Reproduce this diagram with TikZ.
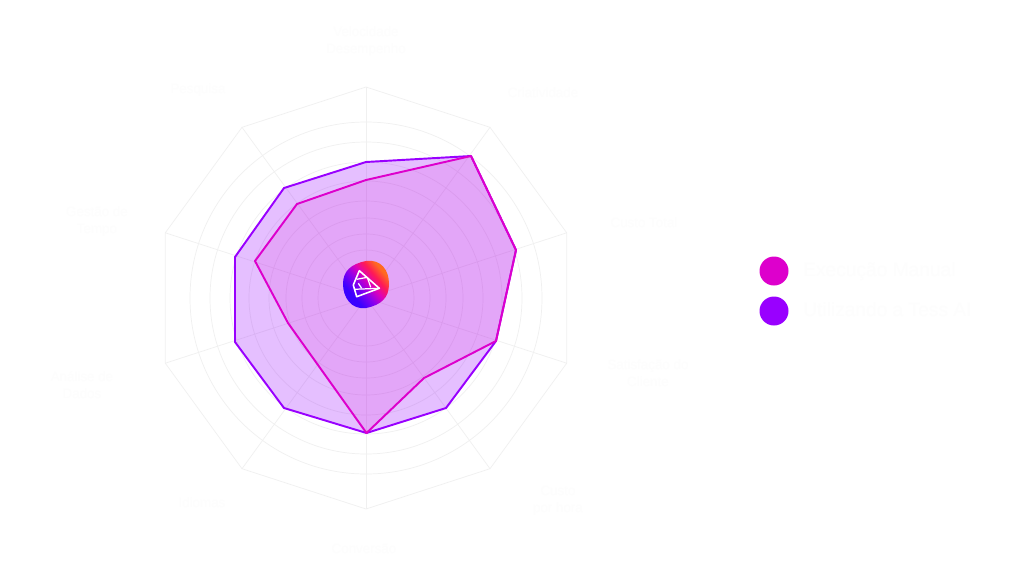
\documentclass[tikz,border=0pt]{standalone}
\usepackage{fontspec}
\usepackage{color}
\setmainfont{Liberation Sans}
\definecolor{gridgray}{HTML}{F0F0F0}
\definecolor{faintwhite}{HTML}{FDFDFD}
\definecolor{tesspurple}{HTML}{9900FF}
\definecolor{tessmagenta}{HTML}{DD00CC}
\definecolor{logoblue}{HTML}{3A00FF}
\definecolor{logoviolet}{HTML}{8A00EE}
\definecolor{logopink}{HTML}{DD00BB}
\definecolor{logored}{HTML}{FF1A55}
\definecolor{logoorange}{HTML}{FF6A20}
\pgfdeclarehorizontalshading{tesslogo}{100bp}{color(0bp)=(logoblue); color(32bp)=(logoblue); color(44bp)=(logoviolet); color(54bp)=(logopink); color(63bp)=(logored); color(72bp)=(logoorange); color(100bp)=(logoorange)}
\begin{document}
\begin{tikzpicture}[x=0.02cm,y=0.02cm]
\tikzstyle{every node}+=[inner sep=0pt]
\tikzstyle{axislabel}=[text=faintwhite, font=\fontsize{7.6pt}{9.6pt}\selectfont, align=center]
\tikzstyle{legendlabel}=[text=faintwhite, font=\fontsize{10.9pt}{13pt}\selectfont, anchor=west]
\tikzstyle{gridline}=[gridgray, line width=0.4pt]
\useasboundingbox (0,0) rectangle (1024,-582);
\fill [white] (0,0) rectangle (1024,-582);
% rings
\draw [gridline] (366,-298) circle (176);
\draw [gridline] (366,-298) circle (156);
\draw [gridline] (366,-298) circle (136);
\draw [gridline] (366,-298) circle (117);
\draw [gridline] (366,-298) circle (97);
\draw [gridline] (366,-298) circle (80);
\draw [gridline] (366,-298) circle (64);
\draw [gridline] (366,-298) circle (48);
% outer decagon
\coordinate (hub) at (366,-298);
\coordinate (v1) at (366,-87);
\coordinate (v2) at (490,-127.3);
\coordinate (v3) at (566.7,-232.8);
\coordinate (v4) at (566.7,-363.2);
\coordinate (v5) at (490,-468.7);
\coordinate (v6) at (366,-509);
\coordinate (v7) at (242,-468.7);
\coordinate (v8) at (165.3,-363.2);
\coordinate (v9) at (165.3,-232.8);
\coordinate (v10) at (242,-127.3);
\draw [gridline] (v1) -- (v2) -- (v3) -- (v4) -- (v5) -- (v6) -- (v7) -- (v8) -- (v9) -- (v10) -- cycle;
\draw [gridline] (hub) -- (v1);
\draw [gridline] (hub) -- (v2);
\draw [gridline] (hub) -- (v3);
\draw [gridline] (hub) -- (v4);
\draw [gridline] (hub) -- (v5);
\draw [gridline] (hub) -- (v6);
\draw [gridline] (hub) -- (v7);
\draw [gridline] (hub) -- (v8);
\draw [gridline] (hub) -- (v9);
\draw [gridline] (hub) -- (v10);
% series
\draw [tesspurple, line width=1.1pt, line join=round, fill=tesspurple, fill opacity=0.25] (366,-162) -- (471,-156) -- (516,-250) -- (496,-341) -- (446,-408) -- (366.5,-433) -- (284,-408) -- (235,-342) -- (235,-257) -- (284,-188) -- cycle;
\draw [tessmagenta, line width=1.1pt, line join=round, fill=tessmagenta, fill opacity=0.13] (366,-180) -- (471,-156) -- (516,-250) -- (496,-341) -- (424,-378) -- (366.5,-433) -- (288,-323) -- (255,-261) -- (297,-204) -- cycle;
% logo
\shade [shading=tesslogo, shading angle=40] (343,-284) .. controls (343,-271) and (351,-264) .. (366,-261) .. controls (381,-259) and (389,-270) .. (389,-284) .. controls (389,-298) and (381,-305) .. (366,-308) .. controls (351,-310) and (343,-297) .. (343,-284) -- cycle;
\draw [white, line width=0.9pt, line join=round] (359.3,-270.7) -- (379.3,-288.3) -- (356.7,-296.7) -- (353.3,-285) -- cycle;
\draw [white, line width=0.7pt] (356.7,-279.3) -- (367.3,-277.3);
\draw [white, line width=0.7pt] (354,-289.3) -- (379.3,-288.3);
\draw [white, line width=0.7pt] (358.3,-283.3) -- (361.7,-288.3);
\draw [white, line width=0.7pt] (367.3,-277.3) -- (370.7,-287.3);
% labels
\node [axislabel] (lblTop) at (366,-41.5) {Velocidade\\Desempenho};
\node [axislabel] (lblUpRight) at (543,-93) {Criatividade};
\node [axislabel] (lblRight) at (644,-223) {Custo Total};
\node [axislabel] (lblLowRight) at (648,-373) {Satisfação do\\Cliente};
\node [axislabel] (lblBotRight) at (558,-501) {Custo\\por hora};
\node [axislabel] (lblBottom) at (364,-549) {Conversão};
\node [axislabel] (lblBotLeft) at (202,-503) {Idiomas};
\node [axislabel] (lblLowLeft) at (82,-385) {Análise de\\Dados};
\node [axislabel] (lblLeft) at (97,-221.5) {Gestão de\\Tempo};
\node [axislabel] (lblUpLeft) at (198,-90) {Pesquisa};
% legend
\fill [tessmagenta] (774,-271) circle (14.5);
\fill [tesspurple] (774,-311) circle (14.5);
\node [legendlabel] (lblManual) at (803,-272) {Execução Manual};
\node [legendlabel] (lblTess) at (803,-310) {Utilizando a Tess AI};
\end{tikzpicture}
\end{document}
